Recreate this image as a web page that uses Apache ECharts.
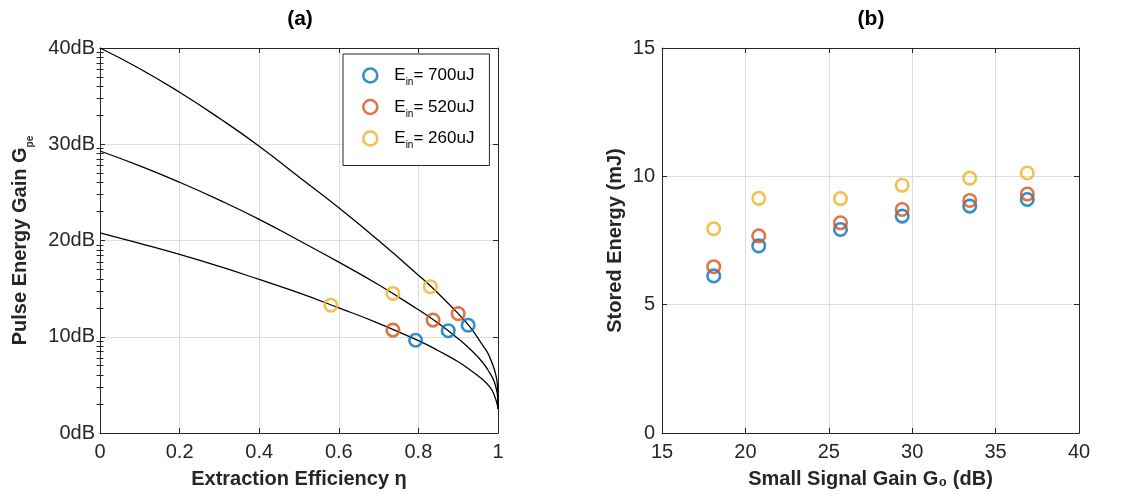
<!DOCTYPE html>
<html>
<head>
<meta charset="utf-8">
<script src="https://cdn.jsdelivr.net/npm/echarts@6/dist/echarts.min.js"></script>
<style>
  html, body { margin: 0; padding: 0; background: #fff; }
  #chart { width: 1130px; height: 497px; }
</style>
</head>
<body>
<div id="chart"></div>
<script>
// ---- Panel (a): pulse energy gain vs extraction efficiency ----
// Gain curves for three small-signal gains (40 dB, 29.3 dB, 20.8 dB)
const effTop  = [0, 0.1, 0.2, 0.3, 0.4, 0.5, 0.6, 0.7, 0.8, 0.85, 0.9, 0.93, 0.96, 0.973, 0.98, 0.99, 0.9967, 0.9993, 1.0];
const gainTop = [40.0, 37.85, 35.4, 32.7, 29.8, 26.6, 23.4, 20.0, 16.4, 14.5, 12.4, 11.0, 9.2, 8.4, 7.8, 6.7, 5.6, 4.5, 2.5];

const effMid  = [0, 0.1, 0.2, 0.3, 0.4, 0.5, 0.6, 0.7, 0.8, 0.85, 0.9, 0.93, 0.96, 0.98, 0.99, 0.9973, 0.9991, 1.0];
const gainMid = [29.3, 27.75, 26.05, 24.2, 22.2, 20.0, 17.75, 15.4, 12.8, 11.4, 9.8, 8.7, 7.4, 6.2, 5.4, 4.3, 3.7, 2.5];

const effBot  = [0, 0.1, 0.2, 0.3, 0.4, 0.5, 0.6, 0.7, 0.8, 0.85, 0.9, 0.93, 0.96, 0.98, 0.99, 0.9985, 1.0];
const gainBot = [20.8, 19.7, 18.55, 17.3, 15.95, 14.55, 13.0, 11.4, 9.6, 8.55, 7.4, 6.55, 5.6, 4.75, 4.0, 2.9, 2.5];

// Measured operating points (input pulse energy 700 / 520 / 260 uJ)
const eff700  = [0.793, 0.875, 0.925];
const gain700 = [9.64, 10.63, 11.2];
const eff520  = [0.736, 0.837, 0.9];
const gain520 = [10.69, 11.73, 12.4];
const eff260  = [0.58, 0.736, 0.83];
const gain260 = [13.28, 14.5, 15.2];

// ---- Panel (b): stored energy vs small signal gain ----
const smallSignalGain = [18.1, 20.8, 25.7, 29.4, 33.45, 36.9];
const stored700 = [6.12, 7.29, 7.93, 8.45, 8.84, 9.10];
const stored520 = [6.48, 7.68, 8.19, 8.71, 9.06, 9.31];
const stored260 = [7.96, 9.14, 9.13, 9.65, 9.93, 10.13];

const seriesNames = ['700uJ', '520uJ', '260uJ'];
const seriesColors = ['#0072BD', '#D95319', '#EDB120'];

const xTicksA = { min: 0, max: 1, interval: 0.2 };
const yTicksA = { min: 0, max: 40, interval: 10 };
const xTicksB = { min: 15, max: 40, interval: 5 };
const yTicksB = { min: 0, max: 15, interval: 5 };

const FONT = '"Liberation Sans", Arial, Helvetica, sans-serif';
const INK = '#262626';
const GRID = '#dedede';

// dB-axis minor ticks sit at 10*log10(k) inside every 10 dB decade
const minorDb = [];
for (let d = 0; d < 40; d += 10) {
  for (let k = 2; k <= 9; k++) minorDb.push(+(d + 10 * Math.log10(k)).toFixed(4));
}

const zip = (xs, ys) => xs.map((x, i) => [x, ys[i]]);

function valueAxis(base, extra) {
  return Object.assign({
    type: 'value',
    min: base.min, max: base.max, interval: base.interval,
    axisLine: { show: true, onZero: false, lineStyle: { color: INK, width: 1 } },
    axisTick: { show: true, inside: true, length: 5, lineStyle: { color: INK } },
    axisLabel: { show: false },
    splitLine: { show: false }
  }, extra);
}

const labelStyle = { color: INK, fontSize: 20, fontFamily: FONT };
const nameStyle = { color: INK, fontSize: 20, fontWeight: 'bold', fontFamily: FONT };

const chart = echarts.init(document.getElementById('chart'), null, { renderer: 'canvas' });

const curveStyle = { color: '#000', width: 1.3 };
function curve(xs, ys) {
  return {
    type: 'line', xAxisIndex: 0, yAxisIndex: 0, data: zip(xs, ys),
    showSymbol: false, symbol: 'none', smooth: 0.5,
    lineStyle: curveStyle, silent: true, z: 2
  };
}
function marks(name, color, xs, ys, xi, yi) {
  return {
    type: 'scatter', name: name, xAxisIndex: xi, yAxisIndex: yi, data: zip(xs, ys),
    symbol: 'circle', symbolSize: 12.5,
    itemStyle: { color: 'rgba(0,0,0,0)', borderColor: color, borderWidth: 2.6 },
    z: 5
  };
}

const option = {
  backgroundColor: '#fff',
  animation: false,
  textStyle: { fontFamily: FONT },
  grid: [
    { left: 100, top: 48, width: 398, height: 385, containLabel: false },
    { left: 662, top: 48, width: 417, height: 385, containLabel: false }
  ],
  xAxis: [
    valueAxis(xTicksA, {
      gridIndex: 0, position: 'bottom',
      axisLabel: Object.assign({ show: true, margin: 9 }, labelStyle),
      splitLine: { show: true, lineStyle: { color: GRID, width: 1 } },
      name: 'Extraction Efficiency η', nameLocation: 'middle', nameGap: 36, nameTextStyle: nameStyle
    }),
    valueAxis(xTicksA, { gridIndex: 0, position: 'top' }),
    valueAxis(xTicksB, {
      gridIndex: 1, position: 'bottom',
      axisLabel: Object.assign({ show: true, margin: 9 }, labelStyle),
      splitLine: { show: true, lineStyle: { color: GRID, width: 1 } },
      name: 'Small Signal Gain G₀ (dB)', nameLocation: 'middle', nameGap: 36, nameTextStyle: nameStyle
    }),
    valueAxis(xTicksB, { gridIndex: 1, position: 'top' })
  ],
  yAxis: [
    valueAxis(yTicksA, {
      gridIndex: 0, position: 'left',
      axisLabel: Object.assign({ show: true, margin: 5, formatter: v => v + 'dB' }, labelStyle),
      splitLine: { show: true, lineStyle: { color: GRID, width: 1 } },
      name: '{t|Pulse Energy Gain G}{s|pe}', nameLocation: 'middle', nameGap: 65,
      nameTextStyle: {
        rich: {
          t: { color: INK, fontSize: 20, fontWeight: 'bold', fontFamily: FONT, lineHeight: 30 },
          s: { color: INK, fontSize: 10, fontWeight: 'bold', fontFamily: FONT, lineHeight: 12, verticalAlign: 'bottom' }
        }
      }
    }),
    valueAxis(yTicksA, { gridIndex: 0, position: 'right' }),
    valueAxis(yTicksA, {
      gridIndex: 0, position: 'left', axisLine: { show: false },
      axisTick: { show: true, inside: true, length: 3.5, customValues: minorDb, lineStyle: { color: INK } }
    }),
    valueAxis(yTicksA, {
      gridIndex: 0, position: 'right', axisLine: { show: false },
      axisTick: { show: true, inside: true, length: 3.5, customValues: minorDb, lineStyle: { color: INK } }
    }),
    valueAxis(yTicksB, {
      gridIndex: 1, position: 'left',
      axisLabel: Object.assign({ show: true, margin: 7 }, labelStyle),
      splitLine: { show: true, lineStyle: { color: GRID, width: 1 } },
      name: 'Stored Energy (mJ)', nameLocation: 'middle', nameGap: 37, nameTextStyle: nameStyle
    }),
    valueAxis(yTicksB, { gridIndex: 1, position: 'right' })
  ],
  legend: {
    orient: 'vertical', left: 343, top: 54,
    itemWidth: 14, itemHeight: 14, itemGap: 11,
    padding: [13, 15, 15, 19],
    borderColor: INK, borderWidth: 1, backgroundColor: '#fff',
    selectedMode: false,
    data: seriesNames.map((n, i) => ({
      name: n, icon: 'circle',
      itemStyle: { color: 'rgba(0,0,0,0)', borderColor: seriesColors[i], borderWidth: 2.6 }
    })),
    formatter: n => '{e0|E}{s|in}{e|= ' + n + '}',
    textStyle: {
      rich: {
        e0: { color: '#000', fontSize: 17, fontFamily: FONT, lineHeight: 24, padding: [0, 0, 0, 12] },
        e: { color: '#000', fontSize: 17, fontFamily: FONT, lineHeight: 24 },
        s: { color: '#000', fontSize: 10, fontFamily: FONT, lineHeight: 10, verticalAlign: 'bottom' }
      }
    }
  },
  graphic: [
    { type: 'text', x: 300, y: 19, style: { text: '(a)', textAlign: 'center', textVerticalAlign: 'middle', font: 'bold 21px ' + FONT, fill: '#000' } },
    { type: 'text', x: 871, y: 19, style: { text: '(b)', textAlign: 'center', textVerticalAlign: 'middle', font: 'bold 21px ' + FONT, fill: '#000' } }
  ],
  series: [
    curve(effTop, gainTop),
    curve(effMid, gainMid),
    curve(effBot, gainBot),
    marks(seriesNames[0], seriesColors[0], eff700, gain700, 0, 0),
    marks(seriesNames[1], seriesColors[1], eff520, gain520, 0, 0),
    marks(seriesNames[2], seriesColors[2], eff260, gain260, 0, 0),
    marks(seriesNames[0], seriesColors[0], smallSignalGain, stored700, 2, 4),
    marks(seriesNames[1], seriesColors[1], smallSignalGain, stored520, 2, 4),
    marks(seriesNames[2], seriesColors[2], smallSignalGain, stored260, 2, 4)
  ]
};

chart.setOption(option);
</script>
</body>
</html>
